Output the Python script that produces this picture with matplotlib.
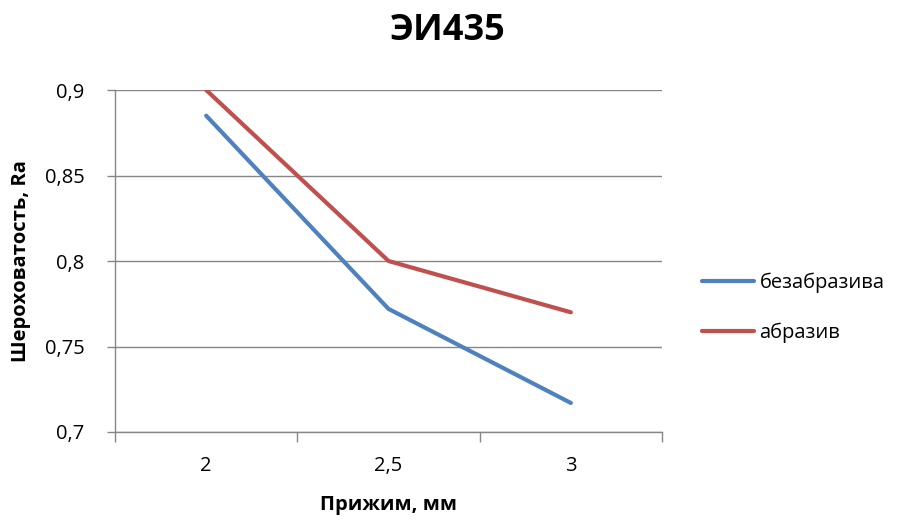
import matplotlib
matplotlib.use("Agg")
import matplotlib.pyplot as plt
from matplotlib.ticker import FuncFormatter, FixedLocator

plt.rcParams['font.family'] = ['Open Sans', 'DejaVu Sans']

categories = ["2", "2,5", "3"]
series_names = ["безабразива", "абразив"]
bez_abraziva = [0.885, 0.772, 0.717]
abraziv = [0.900, 0.800, 0.770]
y_ticks = [0.70, 0.75, 0.80, 0.85, 0.90]

colors = ["#4F81BD", "#C0504D"]
grey = "#868686"
fs = 14.5

fig = plt.figure(figsize=(9.10, 5.22), dpi=100)
ax = fig.add_axes([115 / 910, 1 - 432 / 522, (662 - 115) / 910, (432 - 90) / 522])

x = list(range(len(categories)))
for vals, name, c in zip([bez_abraziva, abraziv], series_names, colors):
    ax.plot(x, vals, color=c, lw=3.0, label=name, solid_capstyle='round',
            solid_joinstyle='miter', zorder=3)

ax.set_xlim(-0.5, len(categories) - 0.5)
ax.set_ylim(y_ticks[0], y_ticks[-1])

# category ticks between groups, labels centred on categories
ax.xaxis.set_major_locator(FixedLocator([i - 0.5 for i in range(len(categories) + 1)]))
ax.xaxis.set_major_formatter(FuncFormatter(lambda v, p: ""))
ax.xaxis.set_minor_locator(FixedLocator(x))
ax.set_xticklabels(categories, minor=True)
ax.tick_params(axis='x', which='major', length=7, width=1, color=grey, direction='out')
ax.tick_params(axis='x', which='minor', length=0, pad=17, labelsize=fs, labelcolor='#000000')

ax.yaxis.set_major_locator(FixedLocator(y_ticks))
ax.yaxis.set_major_formatter(FuncFormatter(lambda v, p: f"{v:g}".replace('.', ',')))
ax.tick_params(axis='y', length=6, width=1, color=grey, direction='out', pad=16,
               labelsize=fs, labelcolor='#000000')

ax.grid(axis='y', color=grey, lw=1.0, zorder=0)
for side in ['top', 'right']:
    ax.spines[side].set_visible(False)
for side in ['left', 'bottom']:
    ax.spines[side].set_color(grey)
    ax.spines[side].set_linewidth(1.0)

ax.set_xlabel("Прижим, мм", fontsize=fs, fontweight='bold', labelpad=14)
ax.set_ylabel("Шероховатость, Ra", fontsize=fs, fontweight='bold', labelpad=10)

fig.text(448 / 910, 1 - 31 / 522, "ЭИ435", ha='center', va='center',
         fontsize=26, fontweight='bold')

fig.legend(loc='center left', bbox_to_anchor=(684 / 910, 1 - 308 / 522),
           frameon=False, fontsize=fs, handlelength=2.6, handletextpad=0.25,
           labelspacing=1.45)

fig.savefig("out.png", dpi=100, facecolor='white')
